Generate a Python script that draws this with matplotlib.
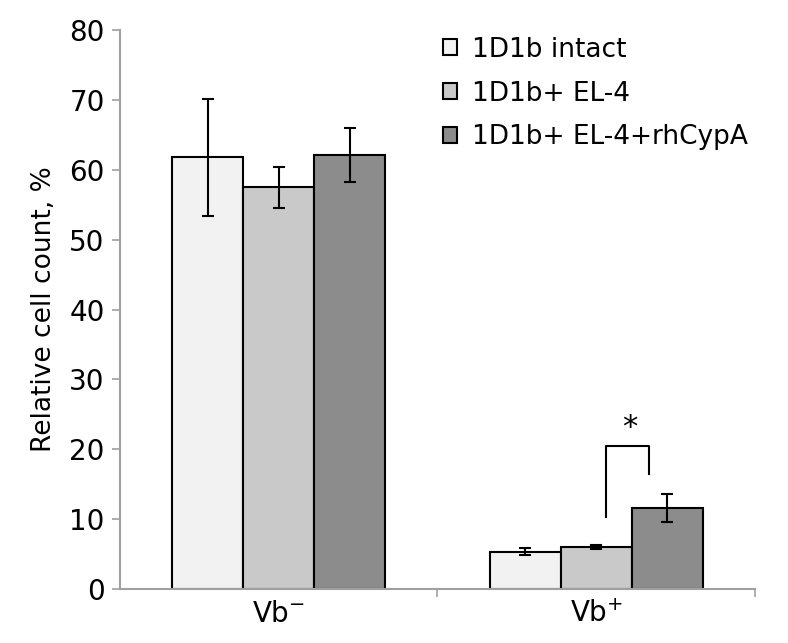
import numpy as np
import matplotlib.pyplot as plt

plt.rcParams['font.family'] = ['DejaVu Sans']

categories = [r'$\mathregular{Vb^{-}}$', r'$\mathregular{Vb^{+}}$']
series = ['1D1b intact', '1D1b+ EL-4', '1D1b+ EL-4+rhCypA']
values = [[61.8, 5.3], [57.5, 6.0], [62.1, 11.6]]
errors = [[8.4, 0.5], [2.9, 0.3], [3.9, 2.0]]
colors = ['#f2f2f2', '#c9c9c9', '#8c8c8c']


def main():
    fig = plt.figure(figsize=(7.88, 6.43), dpi=100)
    ax = fig.add_axes([0.1523, 0.084, 0.8058, 0.869])

    x = np.arange(len(categories))
    width = 0.224
    for i, (name, vals, errs, c) in enumerate(zip(series, values, errors, colors)):
        ax.bar(x + (i - 1) * width, vals, width, color=c, edgecolor='black',
               linewidth=1.5, label=name, zorder=2)
        ax.errorbar(x + (i - 1) * width, vals, yerr=errs, fmt='none',
                    ecolor='black', elinewidth=1.5, capsize=4, capthick=1.5, zorder=3)

    # significance bracket between EL-4 and EL-4+rhCypA in Vb+
    ax.plot([1.03, 1.03, 1.165, 1.165], [10.3, 20.5, 20.5, 16.5],
            color='black', lw=1.5, zorder=3)
    ax.text(1.105, 21.0, '*', ha='center', va='bottom', fontsize=22)

    ax.set_xlim(-0.5, 1.5)
    ax.set_ylim(0, 80)
    ax.set_yticks(np.arange(0, 81, 10))
    ax.set_xticks(x, categories)
    ax.set_xticks([0.5, 1.5], minor=True)
    ax.tick_params(axis='x', which='major', length=0, pad=8, labelsize=20)
    ax.tick_params(axis='x', which='minor', length=6, color='#a0a0a0', width=1.2)
    ax.tick_params(axis='y', length=6, color='#a0a0a0', width=1.2, labelsize=20, pad=5)
    for s in ['top', 'right']:
        ax.spines[s].set_visible(False)
    for s in ['left', 'bottom']:
        ax.spines[s].set_color('#a0a0a0')
        ax.spines[s].set_linewidth(1.5)

    ax.set_ylabel('Relative cell count, %', fontsize=19, labelpad=9)

    ax.legend(loc='upper left', bbox_to_anchor=(0.532, 0.980), bbox_transform=fig.transFigure,
              frameon=False, fontsize=19, handlelength=0.55, handleheight=0.55,
              handletextpad=0.55, labelspacing=0.68)

    fig.savefig('out.png', dpi=100)


if __name__ == "__main__":
    main()
